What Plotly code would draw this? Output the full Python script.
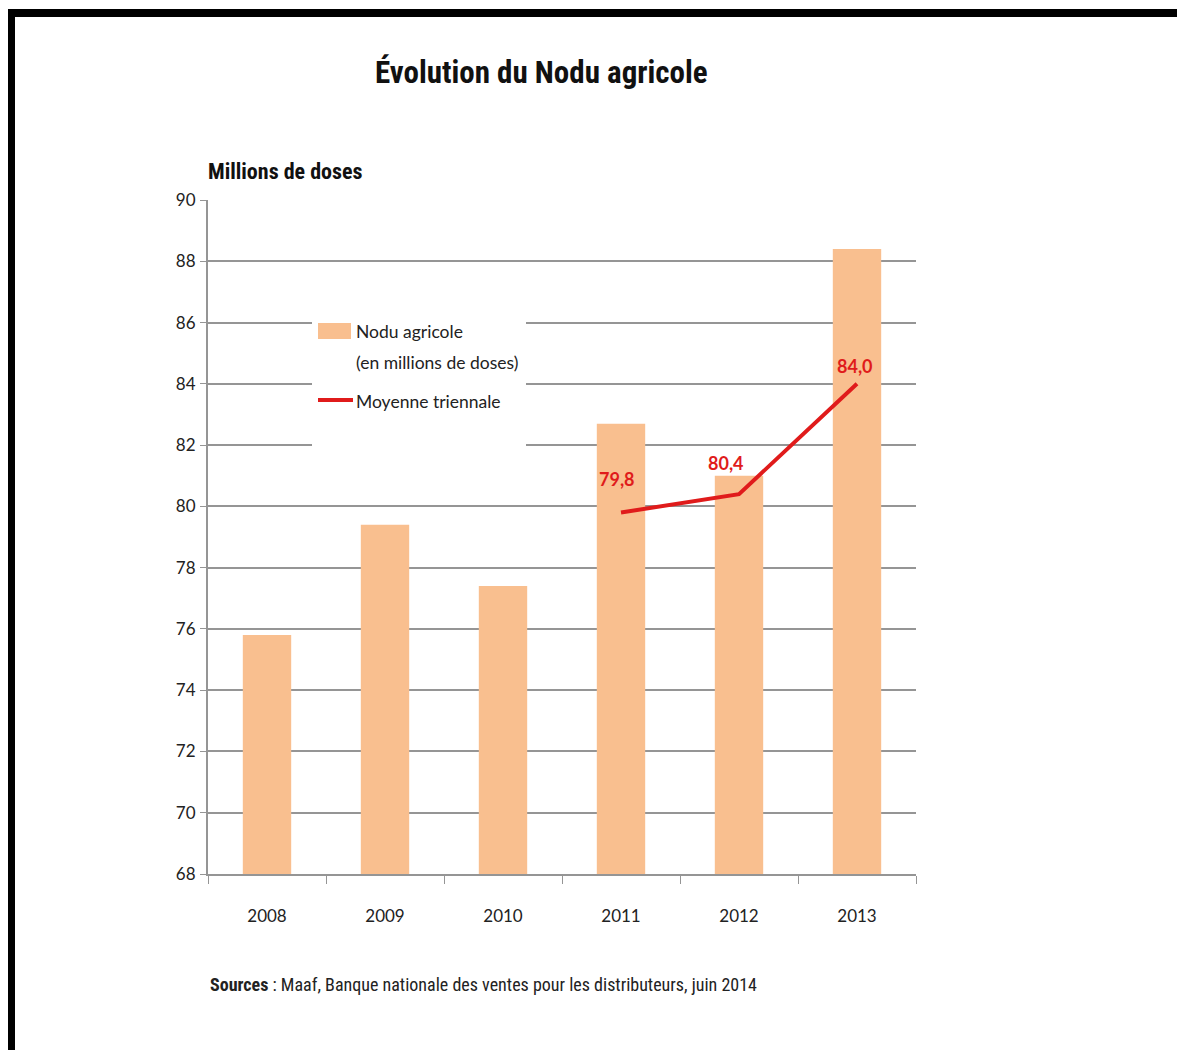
import plotly.graph_objects as go

# ---------------- data ----------------
years = ["2008", "2009", "2010", "2011", "2012", "2013"]
nodu_values = [75.8, 79.4, 77.4, 82.7, 81.0, 88.4]
avg_years = ["2011", "2012", "2013"]
avg_values = [79.8, 80.4, 84.0]
y_min, y_max, y_step = 68, 90, 2

title_text = "Évolution du Nodu agricole"
y_title_text = "Millions de doses"
source_text = "<b>Sources</b> : Maaf, Banque nationale des ventes pour les distributeurs, juin 2014"
bar_name = "Nodu agricole"
bar_name2 = "(en millions de doses)"
line_name = "Moyenne triennale"

# ---------------- layout geometry ----------------
# The page body has an 8px margin, so the figure is drawn 8px in from the corner.
OFF = 8
W, H = 1185 - OFF, 1050 - OFF
# plot area in screen pixels
L, R, T, B = 208, 916, 200, 874


def px(x):
    return (x - L) / (R - L)


def py(y):
    return (B - y) / (B - T)


BAR_COLOR = "#F9BF8F"
LINE_COLOR = "#E01B1B"
GRID = "#959595"
NARROW = "Liberation Sans Narrow, Arial Narrow, Roboto Condensed, Liberation Sans, Arial, sans-serif"
BODY = "Lato, Carlito, Calibri, Open Sans, sans-serif"

fig = go.Figure()
fig.add_trace(go.Bar(
    x=years, y=nodu_values, name=bar_name,
    marker=dict(color=BAR_COLOR, line=dict(width=0)),
    width=0.41, showlegend=False,
))
fig.add_trace(go.Scatter(
    x=avg_years, y=avg_values, name=line_name, mode="lines",
    line=dict(color=LINE_COLOR, width=4), showlegend=False,
))

# data labels for the moving average (category index used as x position)
label_shifts = [(-4, 33), (-13, 31), (-2, 18)]
annotations = []
for xv, yv, (dx, dy) in zip(avg_years, avg_values, label_shifts):
    annotations.append(dict(
        x=years.index(xv), y=yv, xref="x", yref="y", text=f"{yv:.1f}".replace(".", ","),
        showarrow=False, xshift=dx, yshift=dy,
        font=dict(family=BODY, size=18, color=LINE_COLOR, weight="bold"),
    ))

# titles and source
annotations += [
    dict(x=px(541), y=py(72), xref="paper", yref="paper", text=f"<b>{title_text}</b>",
         showarrow=False, xanchor="center", yanchor="middle",
         font=dict(family=NARROW, size=31, color="#111111")),
    dict(x=px(206), y=py(172), xref="paper", yref="paper", text=f"<b>{y_title_text}</b>",
         showarrow=False, xanchor="left", yanchor="middle",
         font=dict(family=NARROW, size=22, color="#111111")),
    dict(x=px(208), y=py(984), xref="paper", yref="paper", text=source_text,
         showarrow=False, xanchor="left", yanchor="middle",
         font=dict(family=NARROW, size=18, color="#222222")),
]

# legend (drawn manually to match the original's glyph sizes and spacing)
annotations += [
    dict(x=px(354), y=py(331), xref="paper", yref="paper", text=bar_name,
         showarrow=False, xanchor="left", yanchor="middle",
         font=dict(family=BODY, size=17.5, color="#222222")),
    dict(x=px(354), y=py(362), xref="paper", yref="paper", text=bar_name2,
         showarrow=False, xanchor="left", yanchor="middle",
         font=dict(family=BODY, size=17.5, color="#222222")),
    dict(x=px(354), y=py(401), xref="paper", yref="paper", text=line_name,
         showarrow=False, xanchor="left", yanchor="middle",
         font=dict(family=BODY, size=17.5, color="#222222")),
]

shapes = [
    # legend background hiding gridlines (does not overlap any bar or line)
    dict(type="rect", xref="paper", yref="paper", x0=px(312), x1=px(526), y0=py(300), y1=py(452),
         fillcolor="white", line=dict(width=0), layer="above"),
    dict(type="rect", xref="paper", yref="paper", x0=px(318), x1=px(351), y0=py(323), y1=py(339),
         fillcolor=BAR_COLOR, line=dict(width=0), layer="above"),
    dict(type="line", xref="paper", yref="paper", x0=px(318), x1=px(353), y0=py(400), y1=py(400),
         line=dict(color=LINE_COLOR, width=4), layer="above"),
    # black frame (top and left edges)
    dict(type="rect", xref="paper", yref="paper", x0=px(8), x1=px(1200), y0=py(9), y1=py(17),
         fillcolor="black", line=dict(width=0), layer="above"),
    dict(type="rect", xref="paper", yref="paper", x0=px(8), x1=px(15), y0=py(9), y1=py(1060),
         fillcolor="black", line=dict(width=0), layer="above"),
]

fig.update_layout(
    width=W, height=H,
    margin=dict(l=L - OFF, r=1185 - R, t=T - OFF, b=1050 - B, pad=0),
    paper_bgcolor="white", plot_bgcolor="white",
    showlegend=False,
    annotations=annotations, shapes=shapes,
)
fig.update_xaxes(
    type="category", range=[-0.5, len(years) - 0.5], showgrid=False,
    showline=True, linecolor=GRID, linewidth=2,
    ticks="outside", tickson="boundaries", ticklen=8, tickcolor=GRID, tickwidth=1,
    tickfont=dict(family=BODY, size=17, color="#222222"),
    ticklabelstandoff=26, tickangle=0,
)
fig.update_yaxes(
    range=[y_min, y_max], dtick=y_step, tick0=y_min,
    showgrid=True, gridcolor=GRID, gridwidth=2,
    showline=True, linecolor=GRID, linewidth=2,
    ticks="outside", ticklen=6, tickcolor=GRID, tickwidth=1,
    tickfont=dict(family=BODY, size=17, color="#222222"),
    ticklabelstandoff=1, zeroline=False,
)

fig.write_html("out.html")
